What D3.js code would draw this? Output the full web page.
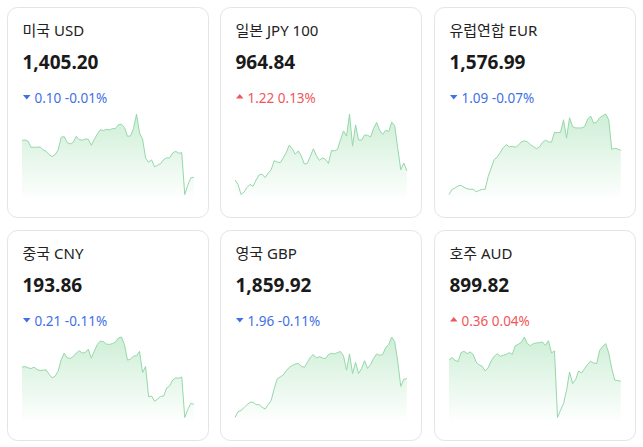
<!DOCTYPE html>
<html>
<head>
<meta charset="utf-8">
<script src="https://d3js.org/d3.v7.min.js"></script>
<style>
  body { margin: 0; background: #fff; font-family: "Noto Sans", "Noto Sans CJK KR", sans-serif; }
  .title { font-size: 15px; fill: #222; }
  .rate { font-size: 19px; font-weight: bold; fill: #1a1a1a; }
  .chg { font-size: 13.5px; }
</style>
</head>
<body>
<script>
// card labels and header values
var currencies = ["미국 USD", "일본 JPY 100", "유럽연합 EUR", "중국 CNY", "영국 GBP", "호주 AUD"];
var rates = [1405.20, 964.84, 1576.99, 193.86, 1859.92, 899.82];
var changes = [-0.10, 1.22, -1.09, -0.21, -1.96, 0.36];
var changePcts = [-0.01, 0.13, -0.07, -0.11, -0.11, 0.04];

// sparkline series
var usdSeries = [1410.15,1410.20,1410.00,1409.10,1409.10,1409.10,1409.15,1408.70,1408.50,1408.00,1407.70,1408.00,1408.70,1410.60,1410.70,1409.80,1409.60,1409.85,1410.75,1410.25,1410.15,1410.35,1410.30,1409.40,1410.30,1411.10,1411.75,1411.60,1411.80,1411.70,1411.90,1411.90,1412.50,1412.55,1412.10,1410.75,1410.80,1411.90,1414.10,1411.25,1410.35,1407.50,1406.85,1407.20,1406.15,1406.40,1406.65,1407.25,1407.50,1407.50,1408.25,1408.50,1408.20,1408.30,1402.00,1403.40,1404.50,1404.60];
var jpySeries = [959.25,958.60,957.10,957.45,958.15,958.60,958.30,959.25,960.00,960.10,959.60,960.25,960.75,962.10,961.90,961.80,962.50,963.30,964.40,963.85,963.05,963.55,962.80,961.60,961.70,962.75,963.85,962.85,962.15,962.50,962.30,961.70,963.60,963.55,963.75,965.20,966.50,965.75,969.00,964.25,967.40,965.15,965.15,965.90,965.85,965.60,966.90,967.75,966.60,966.00,966.60,966.40,967.80,967.25,963.90,960.75,961.75,960.60];
var eurSeries = [1567.10,1567.85,1568.05,1568.35,1568.45,1568.15,1567.95,1567.85,1567.90,1567.50,1567.70,1567.85,1567.85,1569.75,1571.00,1572.25,1572.60,1573.30,1574.00,1574.45,1574.10,1574.20,1574.05,1574.35,1574.85,1575.00,1574.85,1574.45,1574.15,1573.85,1574.10,1574.75,1575.10,1574.85,1574.80,1576.25,1576.20,1576.25,1578.10,1575.40,1578.40,1577.10,1576.90,1576.90,1576.90,1577.10,1578.20,1578.65,1577.60,1577.75,1578.40,1578.70,1578.95,1578.10,1573.75,1573.90,1573.80,1573.60];
var cnySeries = [194.88,194.90,194.86,194.84,194.88,194.81,194.78,194.79,194.80,194.67,194.56,194.61,194.76,195.10,195.30,195.16,195.14,195.20,195.30,195.37,195.30,195.32,195.42,195.15,195.36,195.56,195.66,195.64,195.57,195.56,195.58,195.63,195.75,195.78,195.55,195.09,195.12,195.21,195.22,195.35,194.72,194.90,194.00,194.02,193.86,193.93,194.01,194.02,194.26,194.32,194.50,194.56,194.55,194.59,193.38,193.62,193.80,193.78];
var gbpSeries = [1857.00,1857.85,1858.05,1858.45,1858.90,1859.25,1859.25,1858.90,1858.90,1858.50,1858.25,1858.90,1859.50,1861.25,1862.70,1863.00,1863.30,1863.90,1864.40,1864.70,1864.90,1865.00,1864.60,1864.40,1865.15,1865.90,1866.30,1865.80,1866.00,1865.80,1865.70,1866.30,1866.50,1866.40,1866.60,1866.75,1866.10,1864.00,1866.40,1863.50,1865.15,1863.50,1864.25,1865.40,1864.25,1864.85,1865.75,1866.40,1866.20,1866.30,1867.35,1867.80,1868.90,1868.20,1865.25,1861.60,1862.65,1862.75];
var audSeries = [901.24,901.36,901.20,901.12,901.66,901.74,901.60,901.70,901.56,901.10,900.92,900.84,900.56,900.76,901.16,901.44,901.60,901.44,901.50,901.56,901.66,901.56,902.08,902.16,902.28,902.60,902.20,902.08,902.20,902.24,902.26,902.30,902.10,902.38,901.64,901.76,897.76,898.20,898.60,899.40,900.50,899.80,900.04,900.56,900.44,900.70,900.96,901.14,901.04,901.00,901.80,902.04,902.20,901.64,900.70,900.00,899.98,899.94];

var allSeries = [usdSeries, jpySeries, eurSeries, cnySeries, gbpSeries, audSeries];

var W = 643, H = 447;
var cardW = 201, cardH = 210;
var cardX = [7.5, 220.5, 434.5];
var cardY = [7.5, 230.5];

var svg = d3.select("body").append("svg")
    .attr("width", W)
    .attr("height", H);

// shared fading green fill
var grad = svg.append("defs").append("linearGradient")
    .attr("id", "fade")
    .attr("x1", 0).attr("y1", 0).attr("x2", 0).attr("y2", 1);
grad.append("stop").attr("offset", "0%").attr("stop-color", "#5cc878").attr("stop-opacity", 0.3);
grad.append("stop").attr("offset", "100%").attr("stop-color", "#5cc878").attr("stop-opacity", 0);

var fmt = d3.format(",.2f");

currencies.forEach(function(name, i) {
    var g = svg.append("g")
        .attr("transform", "translate(" + cardX[i % 3] + "," + cardY[Math.floor(i / 3)] + ")");

    g.append("rect")
        .attr("width", cardW)
        .attr("height", cardH)
        .attr("rx", 10)
        .attr("fill", "#fff")
        .attr("stroke", "#e4e4e4");

    g.append("text").attr("class", "title")
        .attr("x", 15).attr("y", 28)
        .text(name);

    g.append("text").attr("class", "rate")
        .attr("x", 15).attr("y", 61)
        .text(fmt(rates[i]));

    var up = changes[i] > 0;
    var col = up ? "#f0565a" : "#3f70e6";
    // small triangle marker
    var tri = up ? "M15.5,91 L23,91 L19.25,86.5 Z" : "M15.5,87.5 L23,87.5 L19.25,92 Z";
    g.append("path").attr("d", tri).attr("fill", col);

    g.append("text").attr("class", "chg")
        .attr("x", 27).attr("y", 95)
        .attr("fill", col)
        .text(Math.abs(changes[i]).toFixed(2) + " " + changePcts[i].toFixed(2) + "%");

    // sparkline
    var data = allSeries[i];
    var x = d3.scaleLinear().domain([0, data.length - 1]).range([14.5, 186.3]);
    var y = d3.scaleLinear().domain(d3.extent(data)).range([187, 106.5]);

    var area = d3.area()
        .x(function(d, j) { return x(j); })
        .y0(193)
        .y1(function(d) { return y(d); });

    var line = d3.line()
        .x(function(d, j) { return x(j); })
        .y(function(d) { return y(d); });

    g.append("path")
        .datum(data)
        .attr("d", area)
        .attr("fill", "url(#fade)");

    g.append("path")
        .datum(data)
        .attr("d", line)
        .attr("fill", "none")
        .attr("stroke", "#95d8aa")
        .attr("stroke-width", 1);
});
</script>
</body>
</html>
